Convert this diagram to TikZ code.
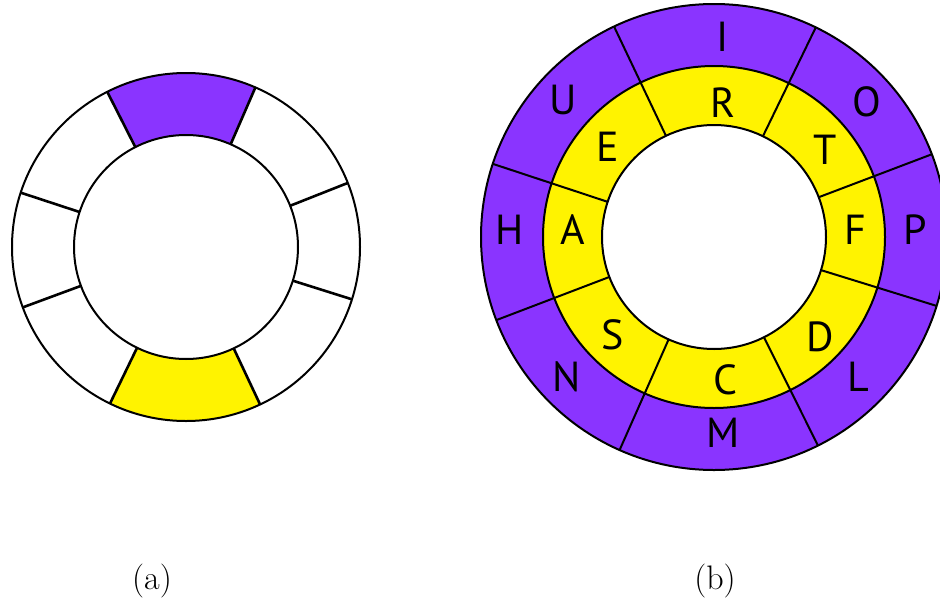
\documentclass[tikz,border=0pt]{standalone}
\usepackage{fontspec}
\newfontfamily\lblfont{PT Sans}
\definecolor{ringviolet}{RGB}{138,52,255}
\definecolor{ringyellow}{RGB}{255,243,0}
\begin{document}
\begin{tikzpicture}[x=1pt,y=1pt,
  rim/.style={draw=black,line width=2pt},
  spoke/.style={draw=black,line width=2.6pt},
  letter/.style={font=\lblfont\fontsize{42}{42}\selectfont,inner sep=0pt},
  caption/.style={font=\fontsize{34}{34}\selectfont,inner sep=0pt}]
\useasboundingbox (0,-600) rectangle (940,0);

% ---- ring (a): eight sectors, one violet, one yellow
\coordinate (ca) at (186,-247);
\begin{scope}[shift={(ca)}]
  \fill[ringviolet] (66.5:174) arc[start angle=66.5,end angle=116.9,radius=174]
    -- (116.9:112) arc[start angle=116.9,end angle=66.5,radius=112] -- cycle;
  \fill[ringyellow] (244.1:174) arc[start angle=244.1,end angle=295.2,radius=174]
    -- (295.2:112) arc[start angle=295.2,end angle=244.1,radius=112] -- cycle;
  \draw[rim] (0,0) circle[radius=174];
  \draw[rim] (0,0) circle[radius=112];
  \foreach \a in {21.6,66.5,116.9,161.8,200.3,244.1,295.2,342.5}
    \draw[spoke] (\a:112) -- (\a:174);
\end{scope}

% ---- ring (b): violet outer band, yellow inner band
\coordinate (cb) at (714,-237);
\begin{scope}[shift={(cb)}]
  \fill[ringviolet] (0,0) circle[radius=233];
  \fill[ringyellow] (0,0) circle[radius=171];
  \fill[white] (0,0) circle[radius=112];
  \draw[rim] (0,0) circle[radius=233];
  \draw[rim] (0,0) circle[radius=171];
  \draw[rim] (0,0) circle[radius=112];
  \foreach \a in {20.8,64.1,115.4,161.7,200.9,246.1,296.5,342.8}
    \draw[spoke,line width=2pt] (\a:112) -- (\a:233);
\end{scope}

% outer band letters
\node[letter] (lI) at (723,-37)  {I};
\node[letter] (lO) at (867,-102) {O};
\node[letter] (lP) at (915,-230) {P};
\node[letter] (lL) at (858,-377) {L};
\node[letter] (lM) at (723,-433) {M};
\node[letter] (lN) at (567,-377) {N};
\node[letter] (lH) at (510,-230) {H};
\node[letter] (lU) at (563,-100) {U};
% inner band letters
\node[letter] (lR) at (723,-103) {R};
\node[letter] (lT) at (825,-150) {T};
\node[letter] (lF) at (855,-230) {F};
\node[letter] (lD) at (820,-337) {D};
\node[letter] (lC) at (725,-380) {C};
\node[letter] (lS) at (613,-335) {S};
\node[letter] (lA) at (573,-230) {A};
\node[letter] (lE) at (608,-147) {E};

% captions
\node[caption] (capa) at (152,-581) {(a)};
\node[caption] (capb) at (715,-581) {(b)};
\end{tikzpicture}
\end{document}
